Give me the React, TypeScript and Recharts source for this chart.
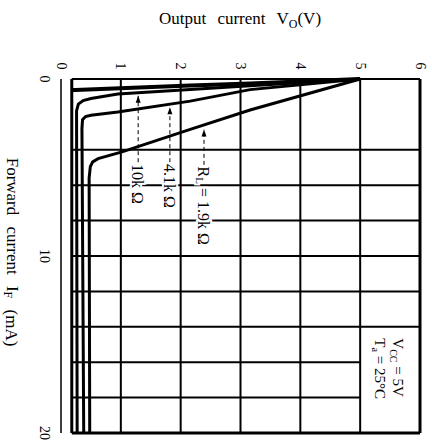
import React from 'react';
import { LineChart, Line, XAxis, YAxis, ReferenceLine, ReferenceDot } from 'recharts';

// output voltage (V) against forward current (mA), one pair of arrays per load
const r19kV = [5, 3.16, 2.16, 1.02, 0.62, 0.53, 0.49, 0.47, 0.48];
const r19kI = [0, 1.75, 2.85, 4.12, 4.5, 4.68, 4.95, 5.6, 20];
const r41kV = [5, 3.16, 2.16, 0.95, 0.5, 0.41, 0.36, 0.35, 0.38];
const r41kI = [0, 0.6, 1.25, 1.86, 2.05, 2.12, 2.3, 2.8, 20];
const r10kV = [5, 3.16, 2.16, 0.95, 0.5, 0.37, 0.29, 0.26, 0.27];
const r10kI = [0, 0.38, 0.6, 0.85, 1.1, 1.22, 1.42, 1.8, 20];
const topV = [5, 3.16, 2.16, 0.24, 0.18];
const topI = [0, 0.25, 0.37, 0.62, 0.62];

const voltTicks = [0, 1, 2, 3, 4, 5, 6];
const currentTicks = [0, 10, 20];
const voltGrid = [1, 2, 3, 4, 5];
const currentGrid = [4, 6, 8, 10, 12, 14];
const currentGridShort = [16, 18];

const toRows = (v: number[], i: number[]) => v.map((val, k) => ({ v: val, i: i[k] }));

const FONT = '"Liberation Serif", "DejaVu Serif", serif';

const VoltTick = (props: any) => {
  const { x, y, payload } = props;
  const cy = y - 5;
  return (
    <text x={x} y={cy} transform={`rotate(90 ${x} ${cy})`} textAnchor="middle"
      dominantBaseline="central" fontSize={14} fontFamily={FONT} fill="#000">
      {payload.value}
    </text>
  );
};

const CurrentTick = (props: any) => {
  const { x, y, payload } = props;
  const cx = x - 9;
  return (
    <text x={cx} y={y} transform={`rotate(90 ${cx} ${y})`} textAnchor="middle"
      dominantBaseline="central" fontSize={14} fontFamily={FONT} fill="#000">
      {payload.value}
    </text>
  );
};

const rotText = (x: number, y: number, parts: React.ReactNode, size = 16) => (
  <text x={x} y={y} transform={`rotate(90 ${x} ${y})`} textAnchor="start"
    dominantBaseline="central" fontSize={size} fontFamily={FONT} fill="#000"
    stroke="#fff" strokeWidth={4} paintOrder="stroke">
    {parts}
  </text>
);

const arrowHead = (p: any) => (
  <path d={`M${p.cx},${p.cy} L${p.cx - 2.5},${p.cy + 7} L${p.cx + 2.5},${p.cy + 7} Z`} fill="#000" />
);

const loads = [
  { v: 1.29, tip: 0.95, start: 4.7, text: <tspan>10k{'\u00a0'}Ω</tspan> },
  { v: 1.82, tip: 1.6, start: 4.7, text: <tspan>4.1k{'\u00a0'}Ω</tspan> },
  {
    v: 2.39, tip: 2.85, start: 4.85,
    text: (
      <>
        <tspan>R</tspan><tspan dy={4} fontSize={11}>L</tspan>
        <tspan dy={-4}>{'\u00a0'}={'\u00a0'}1.9k{'\u00a0'}Ω</tspan>
      </>
    ),
  },
];

export default function App() {
  const line = { stroke: '#000', dot: false, isAnimationActive: false, type: 'linear' as const };
  return (
    <div style={{ position: 'absolute', left: 0, top: 0, width: 432, height: 444, background: '#fff' }}>
      <LineChart width={432} height={444} margin={{ top: 49, right: 12, bottom: 11, left: 21 }}>
        <XAxis type="number" dataKey="v" orientation="top" domain={[0, 6]} ticks={voltTicks}
          height={30} axisLine={false} tickLine={false} tick={<VoltTick />}
          label={{
            content: () => (
              <text x={240} y={24} textAnchor="middle" fontSize={17} fontFamily={FONT} fill="#000"
                wordSpacing={7}>
                Output current V<tspan dy={4} fontSize={12}>O</tspan>
                <tspan dy={-4}>(V)</tspan>
              </text>
            ),
          }} />
        <YAxis type="number" dataKey="i" domain={[0, 20]} reversed ticks={currentTicks} width={40}
          axisLine={{ stroke: '#000', strokeWidth: 1.5 }} tickLine={false} tick={<CurrentTick />}
          label={{
            content: () => (
              <text x={12} y={252} transform="rotate(90 12 252)" textAnchor="middle"
                dominantBaseline="central" fontSize={17} fontFamily={FONT} fill="#000" wordSpacing={7}>
                Forward current I<tspan dy={4} fontSize={12}>F</tspan>
                <tspan dy={-4}> (mA)</tspan>
              </text>
            ),
          }} />

        {voltGrid.map((g) => (
          <ReferenceLine key={'v' + g} segment={[{ x: g, y: 0 }, { x: g, y: 20 }]} stroke="#000" strokeWidth={2} />
        ))}
        {currentGrid.map((g) => (
          <ReferenceLine key={'i' + g} segment={[{ x: 0.18, y: g }, { x: 6, y: g }]} stroke="#000" strokeWidth={2} />
        ))}
        {currentGridShort.map((g) => (
          <ReferenceLine key={'s' + g} segment={[{ x: 0.18, y: g }, { x: 5, y: g }]} stroke="#000" strokeWidth={2} />
        ))}
        <ReferenceLine segment={[{ x: 0.18, y: 0 }, { x: 6, y: 0 }]} stroke="#000" strokeWidth={2} />
        <ReferenceLine segment={[{ x: 0.18, y: 20 }, { x: 6, y: 20 }]} stroke="#000" strokeWidth={3} />
        <ReferenceLine segment={[{ x: 6, y: 0 }, { x: 6, y: 20 }]} stroke="#000" strokeWidth={3} />
        <ReferenceLine segment={[{ x: 0.18, y: 0 }, { x: 0.18, y: 20 }]} stroke="#000" strokeWidth={3} />

        <Line {...line} data={toRows(topV, topI)} dataKey="i" strokeWidth={4} />
        <Line {...line} data={toRows(r10kV, r10kI)} dataKey="i" strokeWidth={3} />
        <Line {...line} data={toRows(r41kV, r41kI)} dataKey="i" strokeWidth={3} />
        <Line {...line} data={toRows(r19kV, r19kI)} dataKey="i" strokeWidth={3} />

        {loads.map((l, k) => (
          <ReferenceLine key={'a' + k} segment={[{ x: l.v, y: l.start }, { x: l.v, y: l.tip }]}
            stroke="#000" strokeWidth={1} strokeDasharray="4 3" />
        ))}
        {loads.map((l, k) => (
          <ReferenceDot key={'h' + k} x={l.v} y={l.tip} r={0} shape={arrowHead} />
        ))}
        {loads.map((l, k) => (
          <ReferenceDot key={'t' + k} x={l.v} y={l.start + 0.1} r={0}
            shape={(p: any) => rotText(p.cx, p.cy, l.text)} />
        ))}
        <ReferenceDot x={5.63} y={14.65} r={0} shape={(p: any) => rotText(p.cx, p.cy,
          <>V<tspan dy={4} fontSize={10}>CC</tspan><tspan dy={-4}>{'\u00a0'}={'\u00a0'}5V</tspan></>, 15)} />
        <ReferenceDot x={5.33} y={14.65} r={0} shape={(p: any) => rotText(p.cx, p.cy,
          <>T<tspan dy={4} fontSize={10}>a</tspan><tspan dy={-4}>{'\u00a0'}={'\u00a0'}25°C</tspan></>, 15)} />
      </LineChart>
    </div>
  );
}
